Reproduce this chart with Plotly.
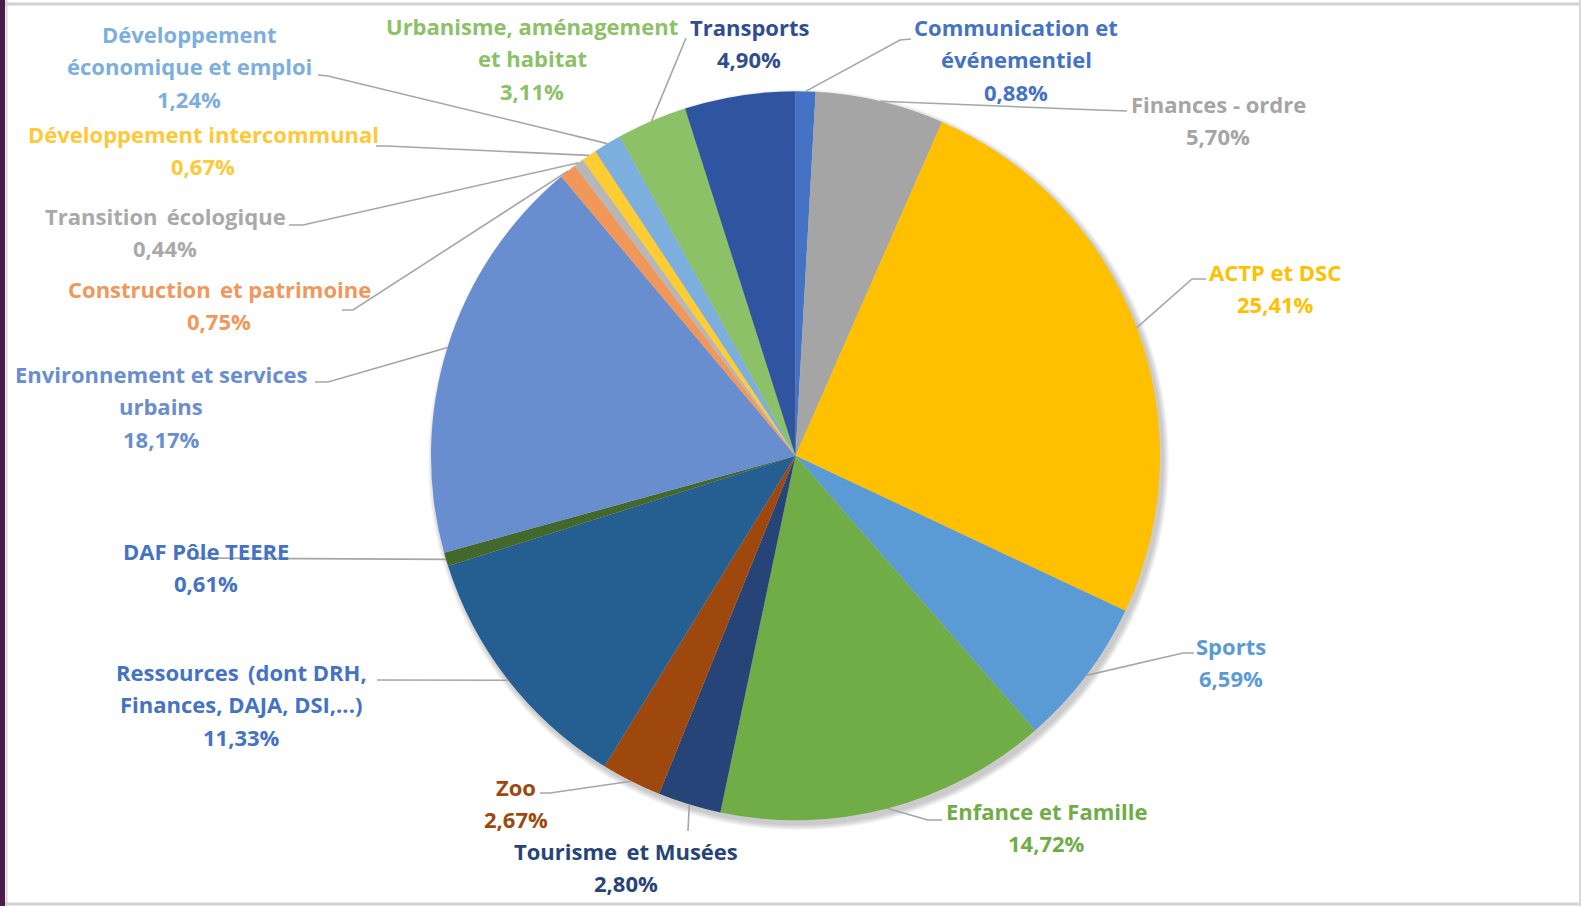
import math
import plotly.graph_objects as go

# ---------------- data ----------------
categories = [
    "Communication et événementiel", "Finances - ordre", "ACTP et DSC", "Sports",
    "Enfance et Famille", "Tourisme et Musées", "Zoo",
    "Ressources (dont DRH, Finances, DAJA, DSI,...)", "DAF Pôle TEERE",
    "Environnement et services urbains", "Construction et patrimoine",
    "Transition écologique", "Développement intercommunal",
    "Développement économique et emploi", "Urbanisme, aménagement et habitat",
    "Transports",
]
values = [0.88, 5.70, 25.41, 6.59, 14.72, 2.80, 2.67, 11.33, 0.61, 18.17,
          0.75, 0.44, 0.67, 1.24, 3.11, 4.90]
label_lines = [
    ["Communication et", "événementiel"],
    ["Finances - ordre"],
    ["ACTP et DSC"],
    ["Sports"],
    ["Enfance et Famille"],
    ["Tourisme  et Musées"],
    ["Zoo"],
    ["Ressources  (dont DRH,", "Finances, DAJA, DSI,...)"],
    ["DAF Pôle TEERE"],
    ["Environnement et services", "urbains"],
    ["Construction  et patrimoine"],
    ["Transition  écologique"],
    ["Développement intercommunal"],
    ["Développement", "économique et emploi"],
    ["Urbanisme, aménagement", "et habitat"],
    ["Transports"],
]
slice_colors = ["#4472C4", "#A5A5A5", "#FFC000", "#5B9BD5", "#70AD47", "#264478",
                "#9E480E", "#255E91", "#43682B", "#698ED0", "#F1975A", "#B7B7B7",
                "#FFCD33", "#7CAFDD", "#8CC168", "#2F55A0"]
text_colors = ["#4472C4", "#A5A5A5", "#FFC000", "#5B9BD5", "#70AD47", "#264478",
               "#9E480E", "#4472C4", "#4472C4", "#698ED0", "#F1975A", "#A9A9A9",
               "#FFC936", "#7CAFDD", "#8CC168", "#2F4E8F"]

# ---------------- layout constants (pixels) ----------------
W, H = 1581, 906
CX, CY, R = 795.5, 455.8, 364.5
PITCH = 32.3
# label block: (x centre, y of first line centre)
label_pos = [
    (1016, 27), (1218, 104), (1275, 272), (1231, 646), (1046, 811),
    (626, 851), (516, 787), (241, 672), (206, 551), (161, 374),
    (219, 289), (165, 216), (203, 134), (189, 34), (532, 26), (749, 27),
]
# leader line: list of points after the slice edge point (None = no line)
leader = [
    [(900, 40), (911, 39)],
    [(1098, 110), (1127, 111)],
    [(1192, 279), (1206, 279)],
    [(1183, 653), (1194, 653)],
    [(928, 820), (942, 820)],
    [(688, 831)],
    [(550, 793), (540, 793)],
    [(377, 680)],
    [(193, 558)],
    [(328, 382), (315, 382)],
    [(353, 310), (342, 310)],
    [(303, 225), (289, 225)],
    [(387, 146), (376, 146)],
    [(328, 76), (318, 75)],
    [(686, 38)],
    None,
]

FONT = "Open Sans"
total = sum(values)

fig = go.Figure()
fig.add_trace(go.Pie(
    labels=categories, values=values, sort=False, direction="clockwise",
    rotation=0, textinfo="none", hoverinfo="label+percent",
    marker=dict(colors=slice_colors, line=dict(width=0)),
    showlegend=False,
    domain=dict(x=[(CX - R) / W, (CX + R) / W], y=[1 - (CY + R) / H, 1 - (CY - R) / H]),
))

shapes = []
# soft shadow behind the pie
for k in range(6):
    rr = R + 1 + k
    shapes.append(dict(type="circle", xref="x", yref="y", layer="below",
                       x0=CX + 3 - rr, x1=CX + 3 + rr, y0=CY + 4 - rr, y1=CY + 4 + rr,
                       fillcolor="rgba(0,0,0,0.035)", line=dict(width=0)))

annotations = []
cum = 0.0
for i, v in enumerate(values):
    mid = (cum + v / 2) / total
    cum += v
    th = 2 * math.pi * mid
    ex, ey = CX + R * math.sin(th), CY - R * math.cos(th)
    if leader[i]:
        pts = [(ex, ey)] + leader[i]
        path = "M " + " L ".join(f"{px:.1f} {py:.1f}" for px, py in pts)
        shapes.append(dict(type="path", xref="x", yref="y", path=path, layer="above",
                           line=dict(color="#A6A6A6", width=1.6)))
    lines = label_lines[i] + [f"{v:.2f}".replace(".", ",") + "%"]
    lx, ly = label_pos[i]
    for j, t in enumerate(lines):
        annotations.append(dict(
            x=lx, y=ly + j * PITCH, xref="x", yref="y", text=t.replace("  ", " \u2009"),
            showarrow=False, xanchor="center", yanchor="middle",
            font=dict(family=FONT, size=22, color=text_colors[i], weight=700)))

# frame of the screenshot
shapes += [
    dict(type="rect", xref="x", yref="y", x0=0, x1=5, y0=0, y1=H, layer="above",
         fillcolor="#4A1B4C", line=dict(width=0)),
    dict(type="line", xref="x", yref="y", x0=6.5, x1=6.5, y0=0, y1=H, layer="above",
         line=dict(color="#D8D8D8", width=2)),
    dict(type="line", xref="x", yref="y", x0=5, x1=W, y0=4, y1=4, layer="above",
         line=dict(color="#D2D2D2", width=3)),
    dict(type="line", xref="x", yref="y", x0=5, x1=W, y0=904, y1=904, layer="above",
         line=dict(color="#D2D2D2", width=3)),
    dict(type="line", xref="x", yref="y", x0=1580, x1=1580, y0=0, y1=H, layer="above",
         line=dict(color="#D8D8D8", width=2)),
]

fig.update_layout(
    width=W, height=H, margin=dict(l=0, r=0, t=0, b=0),
    paper_bgcolor="white", plot_bgcolor="white",
    xaxis=dict(range=[0, W], visible=False, fixedrange=True),
    yaxis=dict(range=[H, 0], visible=False, fixedrange=True),
    shapes=shapes, annotations=annotations,
)
fig.write_html("out.html", config={"displayModeBar": False},
               post_script="document.body.style.margin='0';document.body.style.overflow='hidden';")
